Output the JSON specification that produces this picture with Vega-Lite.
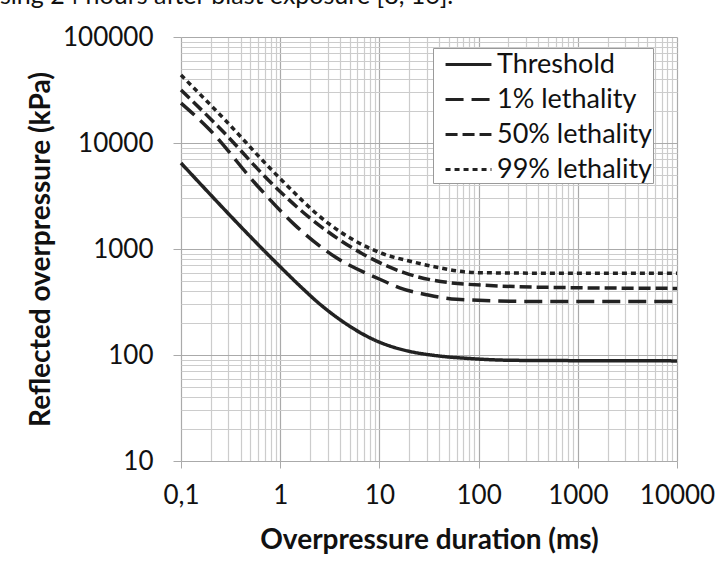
{
  "$schema": "https://vega.github.io/schema/vega-lite/v6.json",
  "width": 496,
  "height": 424,
  "autosize": {"type": "none"},
  "padding": {"left": 181, "top": 37, "right": 42, "bottom": 119},
  "background": "white",
  "title": {"text": "sing 24 hours after blast exposure [8, 16].", "anchor": "start", "frame": "group", "dx": -181, "offset": -5, "baseline": "alphabetic", "fontSize": 25, "font": "Lato", "fontWeight": "normal", "color": "#111"},
  "config": {"view": {"stroke": null}, "font": "Lato"},
  "data": {"values": [
    {"series": "Threshold", "duration": 0.1, "pressure": 6470},
    {"series": "Threshold", "duration": 1, "pressure": 680},
    {"series": "Threshold", "duration": 1.66, "pressure": 429},
    {"series": "Threshold", "duration": 2.42, "pressure": 311},
    {"series": "Threshold", "duration": 4.2, "pressure": 209},
    {"series": "Threshold", "duration": 6.1, "pressure": 167},
    {"series": "Threshold", "duration": 9, "pressure": 138},
    {"series": "Threshold", "duration": 13.3, "pressure": 120},
    {"series": "Threshold", "duration": 19.4, "pressure": 109},
    {"series": "Threshold", "duration": 36, "pressure": 99},
    {"series": "Threshold", "duration": 76, "pressure": 93},
    {"series": "Threshold", "duration": 244, "pressure": 89},
    {"series": "Threshold", "duration": 10000, "pressure": 88},
    {"series": "1% lethality", "duration": 0.1, "pressure": 23800},
    {"series": "1% lethality", "duration": 0.188, "pressure": 13800},
    {"series": "1% lethality", "duration": 0.6, "pressure": 3870},
    {"series": "1% lethality", "duration": 1.41, "pressure": 1680},
    {"series": "1% lethality", "duration": 3.56, "pressure": 845},
    {"series": "1% lethality", "duration": 10.5, "pressure": 510},
    {"series": "1% lethality", "duration": 16, "pressure": 430},
    {"series": "1% lethality", "duration": 31, "pressure": 368},
    {"series": "1% lethality", "duration": 60, "pressure": 335},
    {"series": "1% lethality", "duration": 353, "pressure": 320},
    {"series": "1% lethality", "duration": 10000, "pressure": 320},
    {"series": "50% lethality", "duration": 0.1, "pressure": 31600},
    {"series": "50% lethality", "duration": 0.238, "pressure": 14250},
    {"series": "50% lethality", "duration": 0.887, "pressure": 3870},
    {"series": "50% lethality", "duration": 1.92, "pressure": 2020},
    {"series": "50% lethality", "duration": 6.6, "pressure": 912},
    {"series": "50% lethality", "duration": 18, "pressure": 595},
    {"series": "50% lethality", "duration": 76, "pressure": 465},
    {"series": "50% lethality", "duration": 773, "pressure": 432},
    {"series": "50% lethality", "duration": 10000, "pressure": 425},
    {"series": "99% lethality", "duration": 0.1, "pressure": 43800},
    {"series": "99% lethality", "duration": 0.278, "pressure": 16500},
    {"series": "99% lethality", "duration": 0.887, "pressure": 5170},
    {"series": "99% lethality", "duration": 3.06, "pressure": 1745},
    {"series": "99% lethality", "duration": 10.5, "pressure": 912},
    {"series": "99% lethality", "duration": 20, "pressure": 770},
    {"series": "99% lethality", "duration": 36, "pressure": 680},
    {"series": "99% lethality", "duration": 95, "pressure": 598},
    {"series": "99% lethality", "duration": 1000, "pressure": 590},
    {"series": "99% lethality", "duration": 10000, "pressure": 590}
  ]},
  "mark": {"type": "line", "interpolate": "monotone", "strokeWidth": 3.5, "color": "#222"},
  "encoding": {
    "x": {
      "field": "duration", "type": "quantitative",
      "scale": {"type": "log", "domain": [0.1, 10000], "nice": false},
      "axis": {
        "values": [0.1,0.2,0.3,0.4,0.5,0.6,0.7,0.8,0.9,1,2,3,4,5,6,7,8,9,10,20,30,40,50,60,70,80,90,100,200,300,400,500,600,700,800,900,1000,2000,3000,4000,5000,6000,7000,8000,9000,10000],
        "labelExpr": "datum.value == 0.1 ? '0,1' : (indexof([1,10,100,1000,10000], datum.value) >= 0 ? format(datum.value, 'd') : '')",
        "title": "Overpressure duration (ms)",
        "grid": true,
        "gridColor": {"condition": {"test": "indexof([0.1,1,10,100,1000,10000], datum.value) >= 0", "value": "#aaaaaa"}, "value": "#cccccc"},
        "gridWidth": 1.2,
        "domain": false,
        "tickSize": 7,
        "tickColor": "#aaa",
        "tickOpacity": {"condition": {"test": "indexof([0.1,1,10,100,1000,10000], datum.value) >= 0", "value": 1}, "value": 0},
        "labelFontSize": 26,
        "labelColor": "#111",
        "labelPadding": 14,
        "labelOverlap": false,
        "labelFlush": false,
        "titleFontSize": 28,
        "titleFontWeight": "bold",
        "titleColor": "#111",
        "titlePadding": 18
      }
    },
    "y": {
      "field": "pressure", "type": "quantitative",
      "scale": {"type": "log", "domain": [10, 100000], "nice": false},
      "axis": {
        "values": [10,20,30,40,50,60,70,80,90,100,200,300,400,500,600,700,800,900,1000,2000,3000,4000,5000,6000,7000,8000,9000,10000,20000,30000,40000,50000,60000,70000,80000,90000,100000],
        "labelExpr": "indexof([10,100,1000,10000,100000], datum.value) >= 0 ? format(datum.value, 'd') : ''",
        "title": "Reflected overpressure (kPa)",
        "grid": true,
        "gridColor": {"condition": {"test": "indexof([10,100,1000,10000,100000], datum.value) >= 0", "value": "#aaaaaa"}, "value": "#cccccc"},
        "gridWidth": 1.2,
        "domain": false,
        "tickSize": 8,
        "tickColor": "#aaa",
        "tickOpacity": {"condition": {"test": "indexof([10,100,1000,10000,100000], datum.value) >= 0", "value": 1}, "value": 0},
        "labelFontSize": 26,
        "labelColor": "#111",
        "labelPadding": 20,
        "labelOverlap": false,
        "titleFontSize": 28,
        "titleFontWeight": "bold",
        "titleColor": "#111",
        "titlePadding": 7
      }
    },
    "strokeDash": {
      "field": "series", "type": "nominal",
      "scale": {"domain": ["Threshold", "1% lethality", "50% lethality", "99% lethality"], "range": [[1, 0], [18, 8], [12, 5], [5, 4]]},
      "legend": {
        "orient": "none", "legendX": 252, "legendY": 11,
        "title": null,
        "symbolType": "M-1.53,0H1.53", "symbolSize": 900, "symbolStrokeWidth": 3, "symbolStrokeColor": "#222", "symbolFillColor": "transparent", "symbolOffset": 19,
        "labelFontSize": 27, "labelFont": "Lato", "labelColor": "#111", "labelOffset": 12, "labelLimit": 300,
        "rowPadding": 5, "padding": 0,
        "strokeColor": "#9a9a9a", "fillColor": "white", "cornerRadius": 0
      }
    }
  }
}
